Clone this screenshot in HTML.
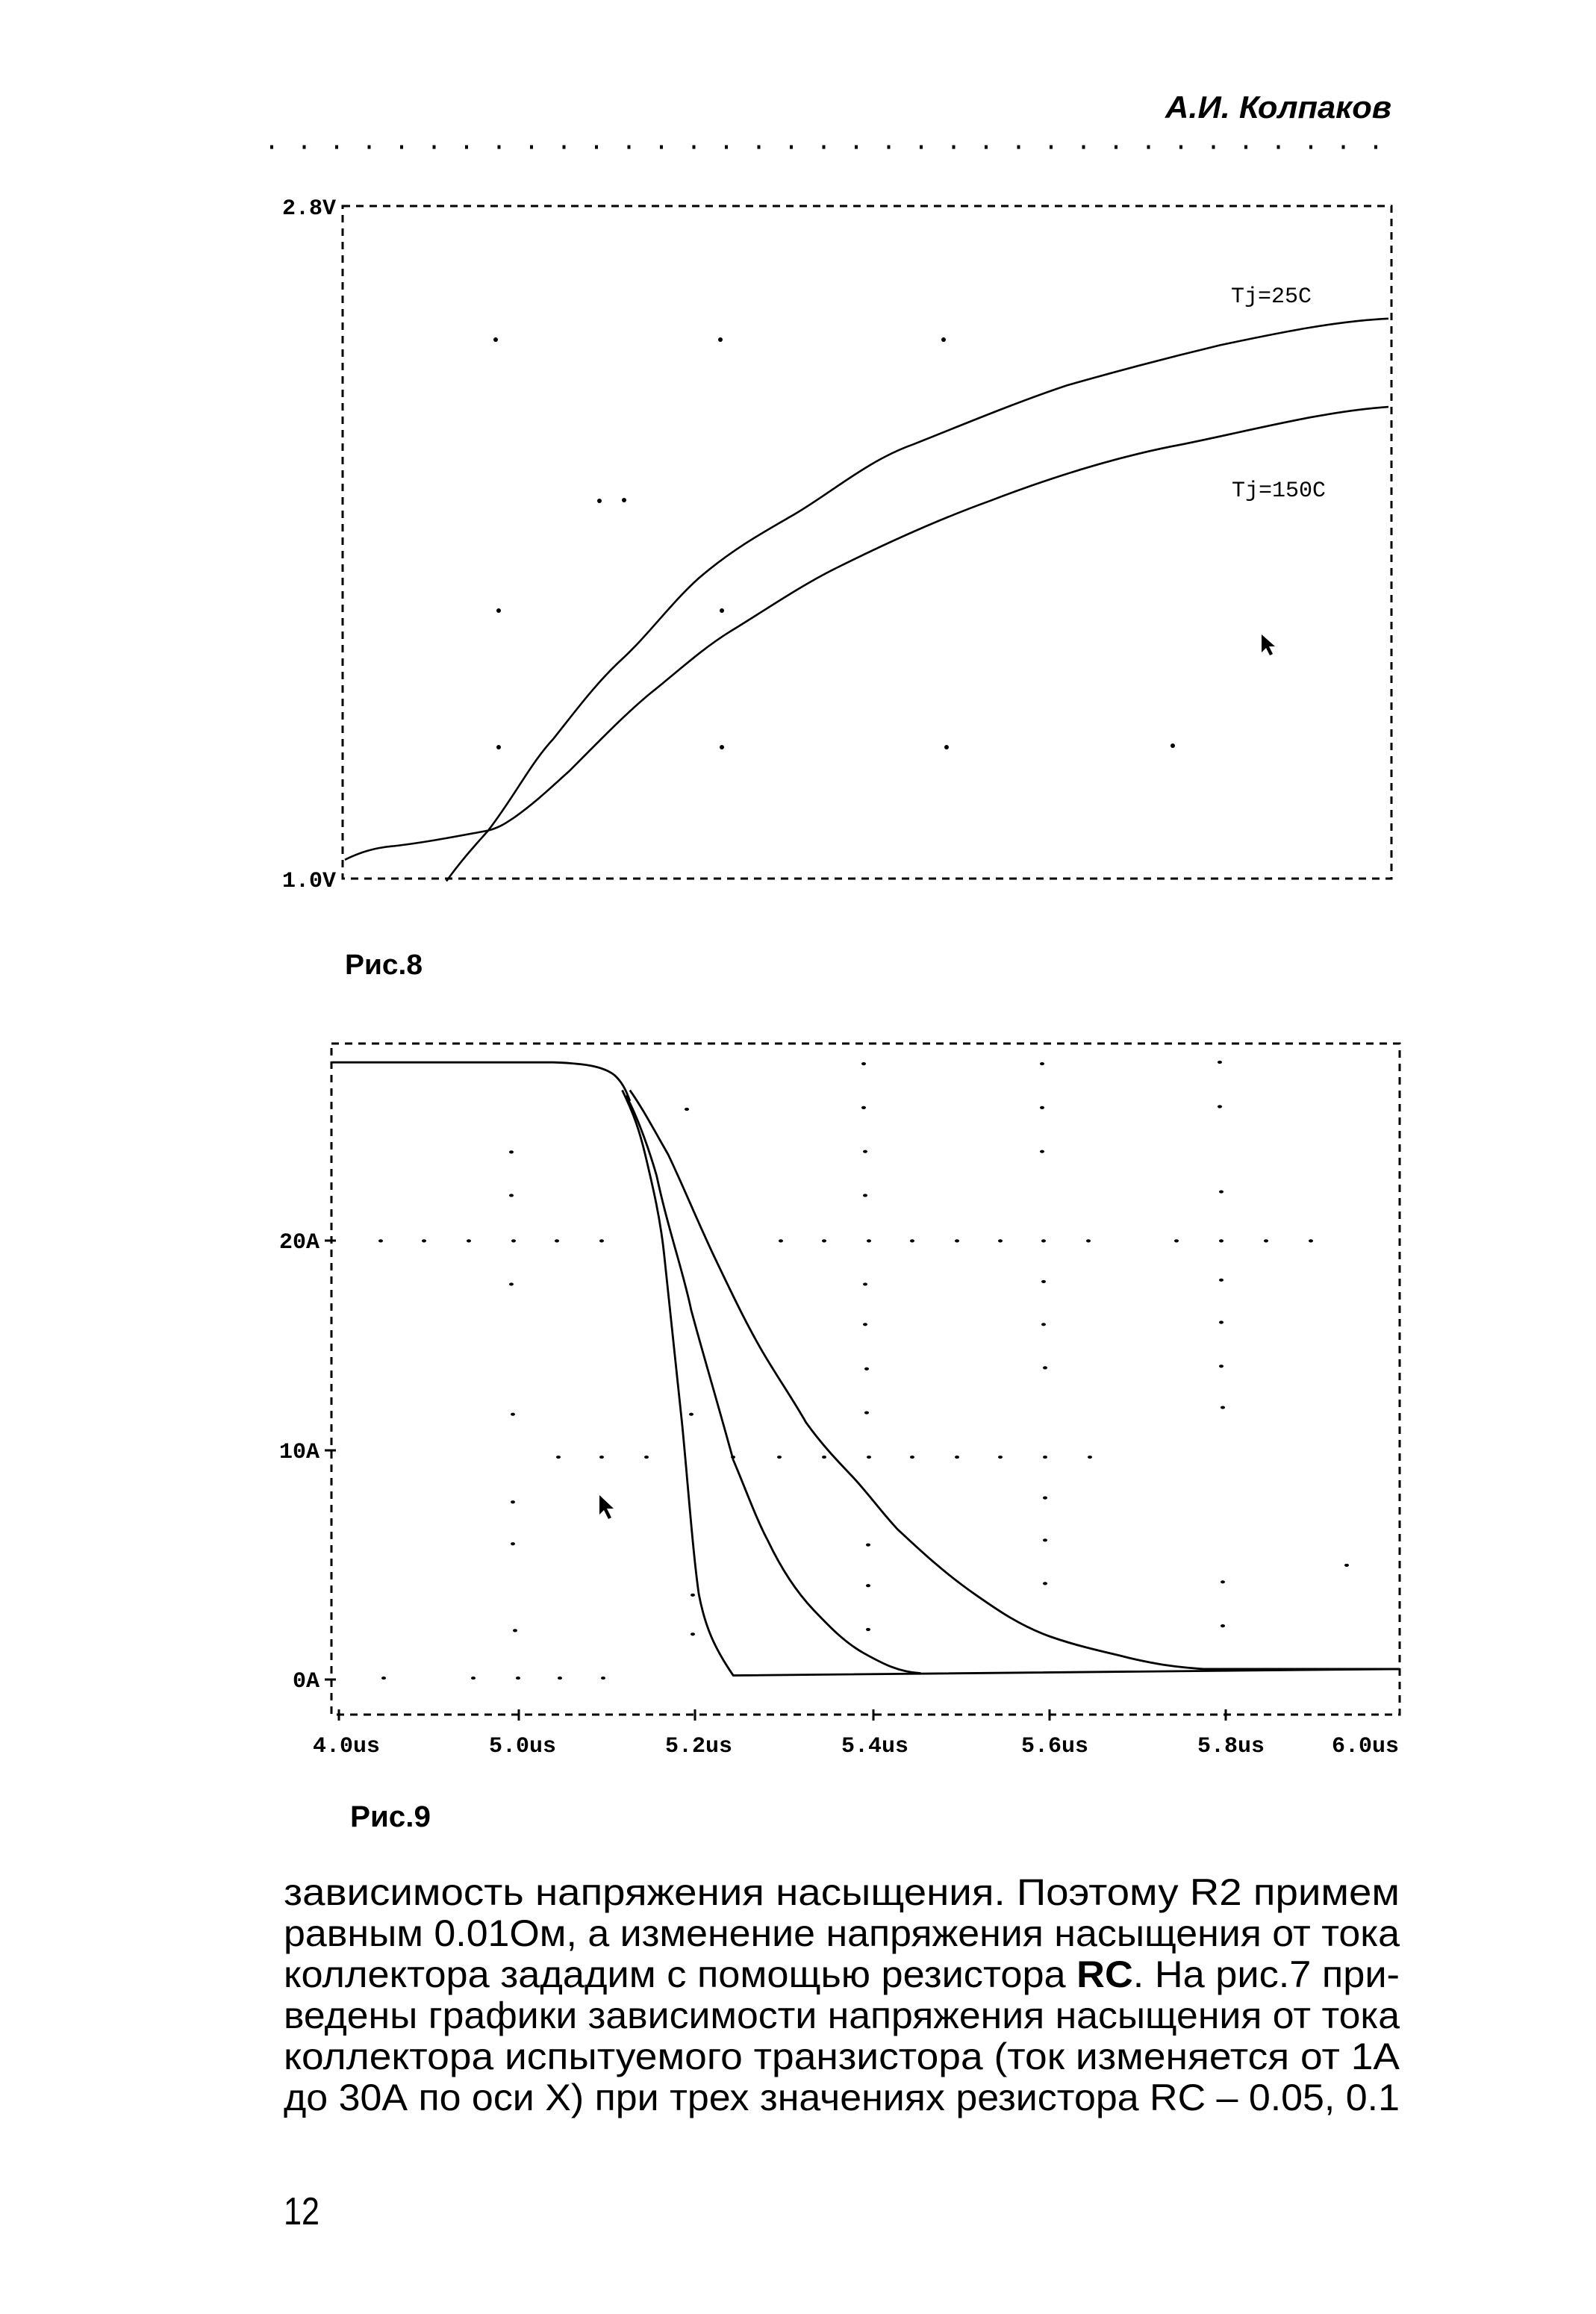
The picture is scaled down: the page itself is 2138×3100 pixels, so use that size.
<!DOCTYPE html>
<html><head><meta charset="utf-8"><style>html,body{margin:0;padding:0;background:#fff}svg{display:block}</style></head>
<body>
<svg width="2138" height="3100" viewBox="0 0 2138 3100" xmlns="http://www.w3.org/2000/svg">
<rect width="2138" height="3100" fill="#fff"/>
<text x="1864" y="158" text-anchor="end" font-family="Liberation Sans, sans-serif" font-weight="bold" font-style="italic" font-size="42" textLength="303" lengthAdjust="spacingAndGlyphs">А.И. Колпаков</text>
<line x1="362" y1="197" x2="1860" y2="197" stroke="#000" stroke-width="5" stroke-dasharray="4,39.5"/>

<!-- Chart 1 -->
<rect x="459" y="276" width="1405" height="901" fill="none" stroke="#000" stroke-width="3" stroke-dasharray="10,8"/>
<g fill="#000">
<circle cx="664" cy="455" r="3"/><circle cx="965" cy="455" r="3"/><circle cx="1264" cy="455" r="3"/>
<circle cx="803" cy="671" r="3"/><circle cx="836" cy="670" r="3"/>
<circle cx="668" cy="818" r="3"/><circle cx="967" cy="818" r="3"/>
<circle cx="668" cy="1001" r="3"/><circle cx="967" cy="1001" r="3"/><circle cx="1268" cy="1001" r="3"/><circle cx="1571" cy="999" r="3"/>
</g>
<text x="450" y="287" text-anchor="end" font-family="Liberation Mono, monospace" font-weight="bold" font-size="30">2.8V</text>
<text x="450" y="1188" text-anchor="end" font-family="Liberation Mono, monospace" font-weight="bold" font-size="30">1.0V</text>
<text x="1649" y="405" font-family="Liberation Mono, monospace" font-size="30">Tj=25C</text>
<text x="1650" y="665" font-family="Liberation Mono, monospace" font-size="30">Tj=150C</text>
<g fill="none" stroke="#000" stroke-width="2.6" transform="matrix(1,0,0,0.6998,0,30.02)">
<path vector-effect="non-scaling-stroke" d="M598,1644 C620,1600 640,1570 654,1547 C690,1480 710,1420 741,1372 C770,1320 800,1262 834,1218 C870,1170 900,1110 936,1064 C980,1010 1020,978 1059,946 C1110,905 1160,840 1223,808 C1290,770 1360,728 1429,695 C1500,666 1570,640 1634,618 C1720,592 1790,572 1860,567"/>
<path vector-effect="non-scaling-stroke" d="M462,1603 C480,1590 500,1580 526,1577 C570,1570 620,1556 654,1547 C672,1540 680,1530 690,1521 C720,1490 740,1462 762,1434 C800,1380 840,1320 875,1280 C910,1240 940,1200 977,1167 C1020,1130 1070,1080 1121,1044 C1190,995 1260,950 1326,916 C1410,870 1500,830 1583,808 C1680,780 1770,745 1860,736"/>
</g>
<path d="M1690,850 l0,24 l6,-6 l5,10 l4,-2 l-5,-10 l8,0 z" fill="#000"/>
<text x="462" y="1305" font-family="Liberation Sans, sans-serif" font-weight="bold" font-size="38" textLength="104" lengthAdjust="spacingAndGlyphs">Рис.8</text>

<!-- Chart 2 -->
<rect x="444" y="1398" width="1431" height="899" fill="none" stroke="#000" stroke-width="3" stroke-dasharray="10,8"/>
<g stroke="#000" stroke-width="3">
<line x1="454" y1="2290" x2="454" y2="2305"/><line x1="695" y1="2290" x2="695" y2="2305"/><line x1="931" y1="2290" x2="931" y2="2305"/><line x1="1170" y1="2290" x2="1170" y2="2305"/><line x1="1406" y1="2290" x2="1406" y2="2305"/><line x1="1642" y1="2290" x2="1642" y2="2305"/>
<line x1="435" y1="1662" x2="450" y2="1662"/><line x1="435" y1="1943" x2="450" y2="1943"/><line x1="435" y1="2250" x2="450" y2="2250"/>
</g>
<g fill="#000" transform="matrix(1,0,0,0.6998,0,408.3)">
<circle cx="510" cy="1792" r="3"/><circle cx="568" cy="1792" r="3"/><circle cx="628" cy="1792" r="3"/><circle cx="688" cy="1792" r="3"/><circle cx="746" cy="1792" r="3"/><circle cx="806" cy="1792" r="3"/><circle cx="1046" cy="1792" r="3"/><circle cx="1104" cy="1792" r="3"/><circle cx="1164" cy="1792" r="3"/><circle cx="1222" cy="1792" r="3"/><circle cx="1282" cy="1792" r="3"/><circle cx="1340" cy="1792" r="3"/><circle cx="1398" cy="1792" r="3"/><circle cx="1458" cy="1792" r="3"/><circle cx="1576" cy="1792" r="3"/><circle cx="1636" cy="1792" r="3"/><circle cx="1696" cy="1792" r="3"/><circle cx="1756" cy="1792" r="3"/>
<circle cx="748" cy="2206" r="3"/><circle cx="806" cy="2206" r="3"/><circle cx="866" cy="2206" r="3"/><circle cx="982" cy="2206" r="3"/><circle cx="1044" cy="2206" r="3"/><circle cx="1104" cy="2206" r="3"/><circle cx="1164" cy="2206" r="3"/><circle cx="1222" cy="2206" r="3"/><circle cx="1282" cy="2206" r="3"/><circle cx="1340" cy="2206" r="3"/><circle cx="1400" cy="2206" r="3"/><circle cx="1460" cy="2206" r="3"/>
<circle cx="514" cy="2629" r="3"/><circle cx="634" cy="2629" r="3"/><circle cx="694" cy="2629" r="3"/><circle cx="750" cy="2629" r="3"/><circle cx="808" cy="2629" r="3"/>
<circle cx="685" cy="1622" r="3"/><circle cx="685" cy="1705" r="3"/><circle cx="685" cy="1875" r="3"/><circle cx="687" cy="2124" r="3"/><circle cx="687" cy="2292" r="3"/><circle cx="687" cy="2372" r="3"/><circle cx="690" cy="2538" r="3"/>
<circle cx="920" cy="1540" r="3"/><circle cx="926" cy="2124" r="3"/><circle cx="928" cy="2470" r="3"/><circle cx="928" cy="2545" r="3"/>
<circle cx="1157" cy="1453" r="3"/><circle cx="1157" cy="1537" r="3"/><circle cx="1159" cy="1621" r="3"/><circle cx="1159" cy="1705" r="3"/><circle cx="1159" cy="1875" r="3"/><circle cx="1159" cy="1952" r="3"/><circle cx="1161" cy="2037" r="3"/><circle cx="1161" cy="2121" r="3"/><circle cx="1163" cy="2374" r="3"/><circle cx="1163" cy="2452" r="3"/><circle cx="1163" cy="2536" r="3"/>
<circle cx="1396" cy="1453" r="3"/><circle cx="1396" cy="1537" r="3"/><circle cx="1396" cy="1621" r="3"/><circle cx="1398" cy="1870" r="3"/><circle cx="1398" cy="1952" r="3"/><circle cx="1400" cy="2035" r="3"/><circle cx="1400" cy="2284" r="3"/><circle cx="1400" cy="2365" r="3"/><circle cx="1400" cy="2448" r="3"/>
<circle cx="1634" cy="1450" r="3"/><circle cx="1634" cy="1535" r="3"/><circle cx="1636" cy="1698" r="3"/><circle cx="1636" cy="1867" r="3"/><circle cx="1636" cy="1948" r="3"/><circle cx="1636" cy="2032" r="3"/><circle cx="1638" cy="2111" r="3"/><circle cx="1638" cy="2445" r="3"/><circle cx="1638" cy="2529" r="3"/><circle cx="1804" cy="2413" r="3"/>
</g>
<g font-family="Liberation Mono, monospace" font-weight="bold" font-size="30">
<text x="428" y="1672" text-anchor="end">20A</text>
<text x="428" y="1953" text-anchor="end">10A</text>
<text x="428" y="2260" text-anchor="end">0A</text>
<text x="464" y="2347" text-anchor="middle">4.0us</text>
<text x="700" y="2347" text-anchor="middle">5.0us</text>
<text x="936" y="2347" text-anchor="middle">5.2us</text>
<text x="1172" y="2347" text-anchor="middle">5.4us</text>
<text x="1413" y="2347" text-anchor="middle">5.6us</text>
<text x="1649" y="2347" text-anchor="middle">5.8us</text>
<text x="1829" y="2347" text-anchor="middle">6.0us</text>
</g>
<g transform="translate(300,1360) scale(1.026,0.718)" fill="none" stroke="#000" stroke-width="2.8">
<path vector-effect="non-scaling-stroke" d="M140,88 L430,88 C470,90 495,95 510,112 C520,125 525,140 530,160"/>
<path vector-effect="non-scaling-stroke" d="M520,140 C530,170 540,200 550,260 C560,320 570,380 575,450 C582,550 590,650 598,760 C605,860 612,1000 620,1080 C628,1140 640,1180 665,1232 L1535,1220"/>
<path vector-effect="non-scaling-stroke" d="M525,150 C540,190 555,250 565,300 C580,400 600,480 610,550 C625,630 640,700 665,830 C680,880 695,940 710,980 C730,1040 750,1080 770,1110 C790,1140 810,1170 835,1190 C860,1210 880,1225 910,1228"/>
<path vector-effect="non-scaling-stroke" d="M530,140 C545,170 560,210 580,260 C600,320 620,390 640,450 C660,510 680,570 700,620 C720,670 740,710 760,760 C780,800 800,830 820,860 C840,890 860,930 880,960 C910,1000 940,1040 980,1080 C1010,1110 1040,1140 1080,1160 C1110,1175 1140,1185 1170,1195 C1210,1210 1240,1216 1280,1220 L1535,1220"/>
</g>
<path d="M803,2003 l0,26 l6,-6 l6,12 l4,-2 l-6,-12 l9,0 z" fill="#000"/>
<text x="469" y="2447" font-family="Liberation Sans, sans-serif" font-weight="bold" font-size="40" textLength="108" lengthAdjust="spacingAndGlyphs">Рис.9</text>

<!-- Body text -->
<g font-family="Liberation Sans, sans-serif" font-size="50" fill="#000">
<text x="380" y="2552" textLength="1495" lengthAdjust="spacingAndGlyphs">зависимость  напряжения  насыщения.  Поэтому  R2  примем</text>
<text x="380" y="2607" textLength="1495" lengthAdjust="spacingAndGlyphs">равным 0.01Ом, а изменение напряжения насыщения от тока</text>
<text x="380" y="2662" textLength="1495" lengthAdjust="spacingAndGlyphs">коллектора зададим с помощью резистора <tspan font-weight="bold">RC</tspan>. На рис.7 при-</text>
<text x="380" y="2717" textLength="1495" lengthAdjust="spacingAndGlyphs">ведены графики зависимости напряжения насыщения от тока</text>
<text x="380" y="2772" textLength="1495" lengthAdjust="spacingAndGlyphs">коллектора испытуемого транзистора (ток изменяется от 1А</text>
<text x="380" y="2827" textLength="1495" lengthAdjust="spacingAndGlyphs">до 30А по оси X) при трех значениях резистора RC – 0.05, 0.1</text>
<text x="380" y="2980" font-size="52" textLength="48" lengthAdjust="spacingAndGlyphs">12</text>
</g>
</svg>
</body></html>
